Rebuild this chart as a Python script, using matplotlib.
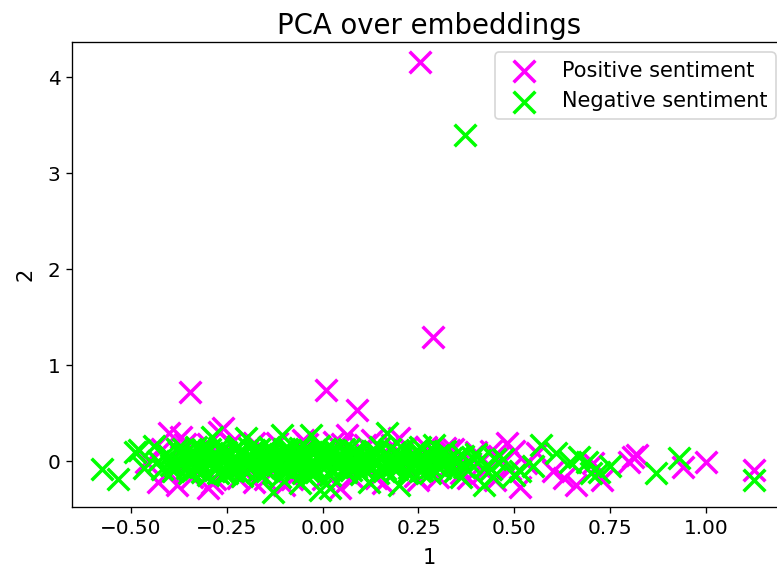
import matplotlib
matplotlib.use("Agg")
import matplotlib.pyplot as plt

pos_x = [0.254, 0.288, -0.346, 0.009, 0.09, 1.125, 1.00, 0.94, 0.80, 0.81, 0.82, 0.66, 0.705, 0.63, 0.56,
         0.515, 0.48, 0.33, 0.32, 0.20, 0.063, 0.045, 0.158, -0.26, -0.27, -0.30, -0.29, -0.37, -0.40, -0.43,
         -0.38, -0.46, 0.73, 0.60, 0.53, 0.50, 0.45, 0.38, 0.13, -0.05, -0.18, -0.10, 0.03, 0.25, 0.22,
         -0.42, -0.40, -0.36, -0.34, -0.30, -0.28, -0.24, -0.22, -0.18, -0.15, -0.12, -0.08, -0.04, 0.00,
         0.05, 0.08, 0.11, 0.14, 0.18, 0.24, 0.27, 0.30, 0.34, 0.36, 0.40, 0.42, 0.46, 0.49,
         -0.35, -0.25, -0.20, -0.10, 0.00, 0.10, 0.20, 0.30, -0.30, -0.15, 0.05, 0.15, 0.25, 0.35, 0.44]
pos_y = [4.16, 1.29, 0.72, 0.74, 0.53, -0.09, -0.01, -0.06, -0.01, 0.04, 0.06, -0.25, -0.02, -0.18, 0.08,
         -0.27, 0.19, 0.11, 0.14, 0.24, 0.27, -0.28, -0.23, 0.34, 0.30, -0.28, -0.23, 0.25, 0.29, -0.22,
         -0.25, -0.01, -0.20, -0.10, -0.02, 0.10, -0.20, -0.18, 0.22, 0.22, -0.22, -0.25, 0.20, -0.20, 0.15,
         0.12, -0.12, 0.18, -0.17, 0.18, -0.19, 0.19, -0.18, 0.19, -0.19, 0.19, -0.19, 0.18, -0.19,
         0.18, -0.18, 0.17, -0.18, 0.17, -0.16, 0.15, -0.17, 0.12, -0.12, 0.09, -0.10, 0.05, -0.08,
         0.00, 0.05, -0.05, 0.00, 0.05, -0.05, 0.00, 0.05, 0.08, 0.10, -0.10, 0.05, 0.00, -0.05, 0.10]

neg_x = [-0.575, -0.534, -0.49, -0.48, -0.466, -0.44, -0.42, 0.371, 0.167, -0.13, -0.007, -0.06, -0.03,
         -0.105, -0.20, -0.29, 0.02, 0.20, 0.12, 0.255, 0.29, 0.57, 0.61, 0.42, 0.445, 0.515, 0.36, 0.39,
         0.645, 0.69, 0.72, 0.87, 0.93, 0.67, 0.70, 1.125, 0.55, 0.50, 0.75, 0.47,
         -0.40, -0.39, -0.38, -0.37, -0.36, -0.35, -0.34, -0.33, -0.32, -0.31, -0.30, -0.29, -0.28, -0.27,
         -0.26, -0.25, -0.24, -0.23, -0.22, -0.21, -0.20, -0.19, -0.18, -0.17, -0.16, -0.15, -0.14, -0.13,
         -0.12, -0.11, -0.10, -0.09, -0.08, -0.07, -0.06, -0.05, -0.04, -0.03, -0.02, -0.01, 0.00, 0.01,
         0.02, 0.03, 0.04, 0.05, 0.06, 0.07, 0.08, 0.09, 0.10, 0.11, 0.12, 0.13, 0.14, 0.15, 0.16, 0.17,
         0.18, 0.19, 0.20, 0.21, 0.22, 0.23, 0.24, 0.25, 0.26, 0.27, 0.28, 0.30, 0.31, 0.32, 0.33, 0.35,
         0.37, 0.40, 0.43, 0.45,
         -0.395, -0.375, -0.355, -0.335, -0.315, -0.295, -0.275, -0.255, -0.235, -0.215, -0.195, -0.175,
         -0.155, -0.135, -0.115, -0.095, -0.075, -0.055, -0.035, -0.015, 0.005, 0.025, 0.045, 0.065,
         0.085, 0.105, 0.125, 0.145, 0.165, 0.185, 0.205, 0.225, 0.245, 0.265, 0.285, 0.305, 0.325,
         0.345, 0.365, 0.385, 0.41, 0.44,
         -0.43, -0.41, -0.385, -0.365, -0.345, -0.325, -0.305, -0.285, -0.265, -0.245,
         -0.225, -0.205, -0.185, -0.165, -0.145, -0.125, -0.105, -0.085, -0.065, -0.045,
         -0.025, -0.005, 0.015, 0.035, 0.055, 0.075, 0.095, 0.115, 0.135, 0.155,
         0.175, 0.195, 0.215, 0.235, 0.255, 0.275, 0.295, 0.315, 0.335,
         -0.352, -0.332, -0.312, -0.292, -0.272, -0.252, -0.232, -0.212, -0.192, -0.172, -0.152, -0.132,
         -0.112, -0.092, -0.072, -0.052, -0.032, -0.012, 0.008, 0.028, 0.048, 0.068, 0.088,
         -0.318, -0.278, -0.238, -0.198, -0.158, -0.118, -0.078, -0.038, 0.002, 0.042, 0.082, 0.122,
         0.162, 0.202, 0.242, 0.282, -0.298, -0.258, -0.218, -0.178, -0.138, -0.098, -0.058, -0.018,
         0.022, 0.062, 0.102, 0.142, 0.182, 0.222]
neg_y = [-0.08, -0.19, 0.09, 0.11, -0.07, 0.16, -0.08, 3.40, 0.29, -0.32, -0.30, -0.23, 0.27,
         0.27, 0.24, 0.25, -0.28, -0.25, -0.22, 0.15, 0.17, 0.17, 0.08, -0.25, -0.17, -0.10, -0.17, 0.04,
         -0.01, -0.01, -0.11, -0.13, 0.03, 0.04, -0.13, -0.20, -0.05, -0.15, -0.05, 0.02,
         0.05, -0.10, 0.12, -0.02, 0.08, -0.13, 0.02, 0.15, -0.06, 0.10, -0.15, 0.04, -0.09, 0.14,
         0.00, -0.12, 0.08, -0.04, 0.16, -0.16, 0.03, -0.08, 0.11, -0.01, -0.14, 0.07, 0.15, -0.05,
         0.02, -0.17, 0.12, -0.09, 0.05, -0.03, 0.14, -0.13, 0.01, 0.09, -0.07, 0.16, -0.02, 0.06,
         -0.15, 0.11, -0.05, 0.03, -0.11, 0.13, -0.01, 0.07, -0.14, 0.04, -0.06, 0.10, -0.03, 0.15, -0.10, 0.02,
         -0.06, 0.09, -0.02, 0.12, -0.13, 0.05, -0.04, 0.08, -0.09, 0.01, -0.12, 0.06, -0.03, 0.10, -0.08, 0.03,
         -0.06, 0.07, -0.04, 0.02,
         -0.04, 0.09, -0.07, 0.05, -0.11, 0.12, -0.03, 0.06, -0.10, 0.10, -0.03, 0.06,
         -0.06, 0.09, -0.01, 0.04, -0.11, 0.08, -0.04, 0.03, 0.12, -0.08, 0.07, -0.03,
         0.10, -0.07, 0.06, -0.12, 0.08, -0.01, 0.04, -0.07, 0.11, -0.02, 0.04, -0.07, 0.01,
         -0.10, 0.05, -0.02, 0.01, -0.08,
         0.00, 0.07, -0.05, 0.13, -0.09, 0.04, 0.08, -0.06, 0.10, -0.02,
         0.13, -0.08, 0.01, 0.12, -0.10, 0.04, -0.06, 0.11, 0.00, 0.06,
         -0.12, 0.05, 0.02, -0.04, 0.12, -0.09, 0.02, -0.02, 0.09, -0.05,
         0.12, -0.08, 0.00, 0.07, -0.10, 0.06, -0.04, 0.09, 0.03,
         0.03, -0.08, 0.11, -0.01, -0.12, 0.09, 0.02, -0.06, 0.14, -0.11, 0.01, -0.03,
         0.07, 0.13, -0.07, 0.10, -0.09, 0.06, -0.05, 0.09, -0.01, 0.04, -0.06,
         -0.02, 0.05, -0.09, 0.02, 0.06, -0.04, 0.03, -0.10, 0.08, 0.00, -0.05, 0.03,
         -0.08, 0.06, -0.01, -0.06, 0.10, -0.13, 0.07, -0.04, 0.03, -0.07, 0.05, -0.11,
         0.07, -0.09, 0.00, 0.08, -0.03, -0.11]

labels = ["Positive sentiment", "Negative sentiment"]

fig = plt.figure(figsize=(777 / 120, 571 / 120), dpi=120)
ax = fig.add_axes([72 / 777, 64 / 571, 714 / 777, 465 / 571])
ax.scatter(pos_x, pos_y, marker="x", s=170, c="magenta", linewidths=2.1, label=labels[0])
ax.scatter(neg_x, neg_y, marker="x", s=170, c="lime", linewidths=2.1, label=labels[1])
ax.set_xlim(-0.654, 1.209)
ax.set_ylim(-0.479, 4.365)
ax.set_xticks([-0.5, -0.25, 0.0, 0.25, 0.5, 0.75, 1.0])
ax.set_yticks([0, 1, 2, 3, 4])
ax.tick_params(labelsize=12)
ax.set_xlabel("1", fontsize=12.5, labelpad=6)
ax.set_ylabel("2", fontsize=12.5, labelpad=7)
ax.set_title("PCA over embeddings", fontsize=16.5, pad=5)
ax.legend(loc="upper right", fontsize=12.5)
fig.savefig("out.png", dpi=120)
